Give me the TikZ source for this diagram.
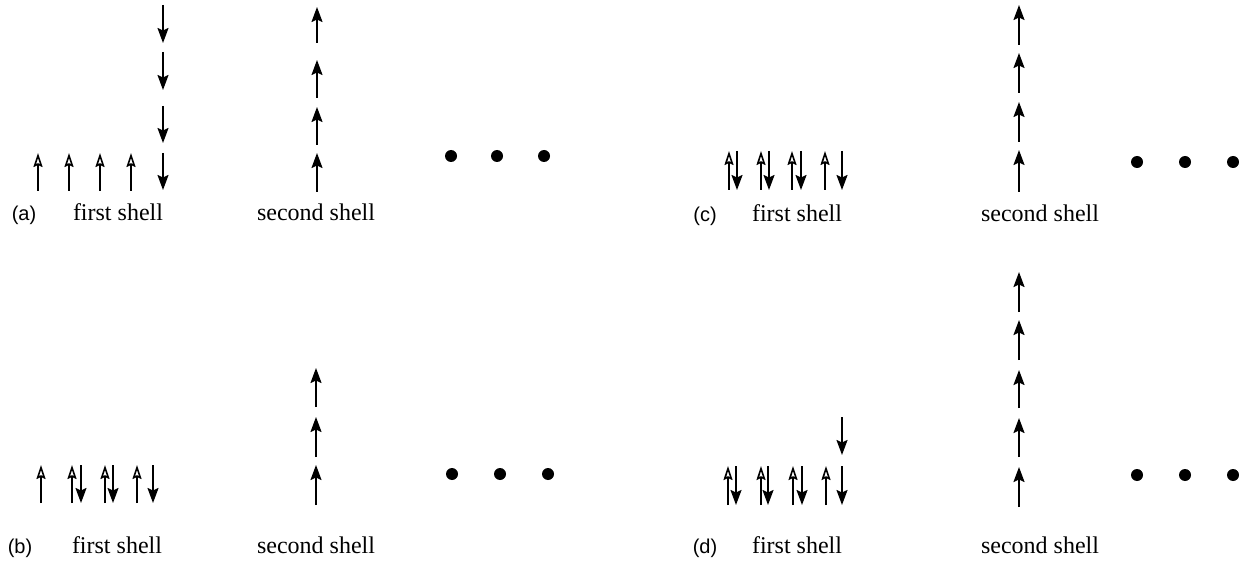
\documentclass[tikz,border=0pt]{standalone}
\usepackage{fontspec}
\setmainfont{Liberation Serif}
\newfontfamily\labelfont{Liberation Sans}
\usetikzlibrary{arrows.meta}
\tikzset{
  hollowspin/.style={line width=1.3pt,-{Stealth[open,length=14pt,width=9pt,inset=2pt,line width=1.6pt]}},
  solidspin/.style={line width=1.8pt,-{Stealth[length=15pt,width=11pt,inset=2.5pt]}},
  dotmark/.style={fill=black,draw=none},
  shelltext/.style={font=\fontsize{24}{28}\selectfont,inner sep=0pt,anchor=base},
  paneltext/.style={font=\labelfont\fontsize{20}{23}\selectfont,inner sep=0pt,anchor=base}
}
% spin arrows: x, tail y, head y
\newcommand\hollowarrow[3]{\draw[hollowspin] (#1,#2) -- (#1,#3);}
\newcommand\solidarrow[3]{\draw[solidspin] (#1,#2) -- (#1,#3);}
\newcommand\threedots[2]{\foreach \dx in {#1}{\fill[dotmark] (\dx,#2) circle (6pt);}}
\begin{document}
\begin{tikzpicture}[x=1pt,y=-1pt]
\useasboundingbox (0,0) rectangle (1239,564);

% ---------- (a) ----------
\foreach \xx in {38,69,100,131}{\hollowarrow{\xx}{191}{153}}
\solidarrow{163}{5}{43}
\solidarrow{163}{52}{90}
\solidarrow{163}{106}{143}
\solidarrow{163}{153}{190}
\solidarrow{317}{43}{7}
\solidarrow{317}{98}{60}
\solidarrow{317}{145}{107}
\solidarrow{317}{192}{153}
\threedots{451,497,544}{156}
\node[paneltext] (la) at (24,221) {(a)};
\node[shelltext] (fa) at (118,221) {first shell};
\node[shelltext] (sa) at (316,221) {second shell};

% ---------- (b) ----------
\hollowarrow{41}{503}{465}
\foreach \xu/\xd in {72/81,105/113}{
  \hollowarrow{\xu}{503}{465}
  \solidarrow{\xd}{465}{503}
}
\hollowarrow{137}{503}{465}
\solidarrow{153}{465}{503}
\solidarrow{316}{407}{368}
\solidarrow{316}{457}{417}
\solidarrow{316}{505}{465}
\threedots{452,500,548}{474}
\node[paneltext] (lb) at (20,553) {(b)};
\node[shelltext] (fb) at (117,553) {first shell};
\node[shelltext] (sb) at (316,553) {second shell};

% ---------- (c) ----------
\foreach \xu/\xd in {729/737,761/769,792/801}{
  \hollowarrow{\xu}{190}{151}
  \solidarrow{\xd}{151}{190}
}
\hollowarrow{825}{190}{151}
\solidarrow{842}{151}{190}
\solidarrow{1019}{45}{5}
\solidarrow{1019}{93}{53}
\solidarrow{1019}{142}{102}
\solidarrow{1019}{192}{150}
\threedots{1137,1185,1233}{162}
\node[paneltext] (lc) at (705,222) {(c)};
\node[shelltext] (fc) at (797,222) {first shell};
\node[shelltext] (sc) at (1040,222) {second shell};

% ---------- (d) ----------
\foreach \xu/\xd in {728/736,761/768,793/802}{
  \hollowarrow{\xu}{505}{466}
  \solidarrow{\xd}{466}{505}
}
\hollowarrow{826}{505}{466}
\solidarrow{842}{466}{505}
\solidarrow{842}{417}{455}
\solidarrow{1019}{312}{272}
\solidarrow{1019}{360}{320}
\solidarrow{1019}{408}{370}
\solidarrow{1019}{457}{418}
\solidarrow{1019}{507}{467}
\threedots{1137,1185,1233}{475}
\node[paneltext] (ld) at (705,553) {(d)};
\node[shelltext] (fd) at (797,553) {first shell};
\node[shelltext] (sd) at (1040,553) {second shell};
\end{tikzpicture}
\end{document}
